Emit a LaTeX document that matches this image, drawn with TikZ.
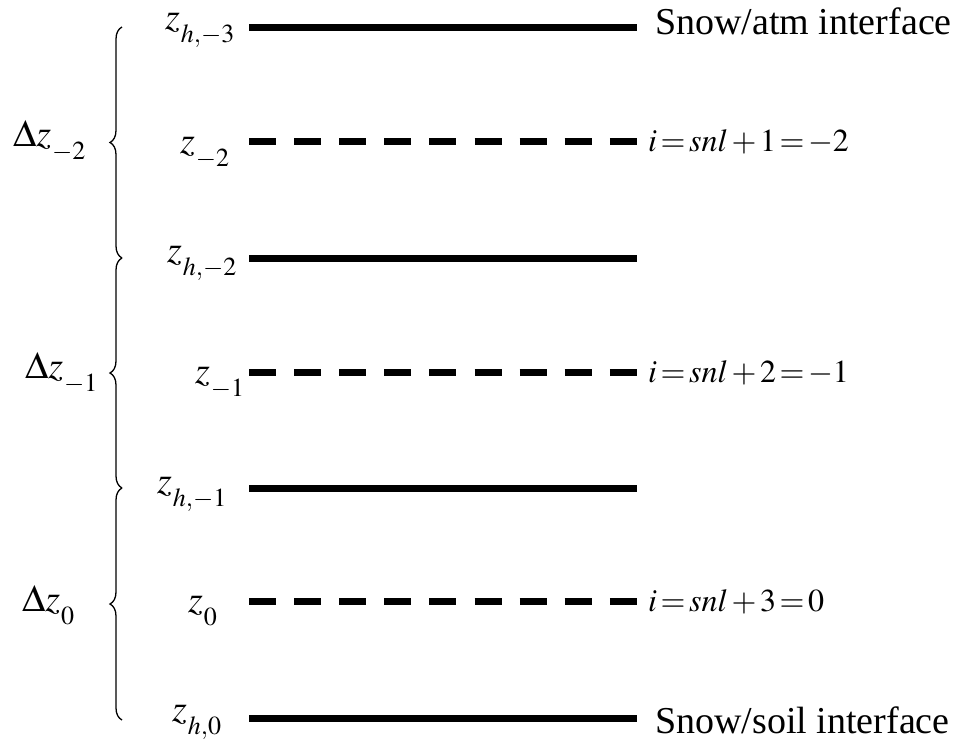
\documentclass[tikz,border=0pt]{standalone}
\usepackage{mathptmx}
\usepackage[no-math]{fontspec}
\setmainfont{Liberation Serif}
\usetikzlibrary{decorations.pathreplacing}
\newcommand{\lsub}[2]{$#1$\kern1pt\lower13pt\hbox{\fontsize{26}{30}\selectfont$#2$}}
\newcommand{\ieq}[1]{$\thickmuskip=2mu\relax\medmuskip=2mu\relax #1$}
\begin{document}
\begin{tikzpicture}[x=1pt,y=-1pt,
  solidline/.style={line width=7pt,line cap=butt},
  dashline/.style={line width=7pt,line cap=butt,dash pattern=on 27pt off 18.1pt},
  bracepath/.style={decorate,decoration={brace,amplitude=12pt},line width=1.3pt},
  zlab/.style={anchor=base west,inner sep=0pt,font=\fontsize{38}{42}\selectfont},
  ilab/.style={anchor=base west,inner sep=0pt,font=\fontsize{32}{36}\selectfont},
  tlab/.style={anchor=base west,inner sep=0pt,font=\fontsize{38}{44}\selectfont},
]
\useasboundingbox (0,0) rectangle (958,742);
% layer line end points
\coordinate (h3a) at (249,27);  \coordinate (h3b) at (637,27);
\coordinate (c2a) at (249,141); \coordinate (c2b) at (637,141);
\coordinate (h2a) at (249,258); \coordinate (h2b) at (637,258);
\coordinate (c1a) at (249,372); \coordinate (c1b) at (637,372);
\coordinate (h1a) at (249,488); \coordinate (h1b) at (637,488);
\coordinate (c0a) at (249,601); \coordinate (c0b) at (637,601);
\coordinate (h0a) at (249,718); \coordinate (h0b) at (637,718);
\draw[solidline] (h3a) -- (h3b);
\draw[dashline]  (c2a) -- (c2b);
\draw[solidline] (h2a) -- (h2b);
\draw[dashline]  (c1a) -- (c1b);
\draw[solidline] (h1a) -- (h1b);
\draw[dashline]  (c0a) -- (c0b);
\draw[solidline] (h0a) -- (h0b);
% braces
\coordinate (b3) at (122,27);
\coordinate (b2) at (122,258);
\coordinate (b1) at (122,488);
\coordinate (b0) at (122,720);
\draw[bracepath] (b2) -- (b3);
\draw[bracepath] (b1) -- (b2);
\draw[bracepath] (b0) -- (b1);
% left labels
\node[zlab] (lh3) at (165,29)  {\lsub{z}{h{,}{-}3}};
\node[zlab] (lc2) at (180,153) {\lsub{z}{-2}};
\node[zlab] (lh2) at (167,262) {\lsub{z}{h{,}{-}2}};
\node[zlab] (lc1) at (195,383) {\lsub{z}{-1}};
\node[zlab] (lh1) at (157,493) {\lsub{z}{h{,}{-}1}};
\node[zlab] (lc0) at (188,612) {\lsub{z}{0}};
\node[zlab] (lh0) at (172,721) {\lsub{z}{h{,}0}};
% thickness labels
\node[zlab] (d2) at (13,146) {\lsub{\Delta z}{-2}};
\node[zlab] (d1) at (25,378) {\lsub{\Delta z}{-1}};
\node[zlab] (d0) at (22,611) {\lsub{\Delta z}{0}};
% right labels
\node[tlab] (top) at (655,34)  {Snow/atm interface};
\node[ilab] (i2)  at (648,151) {\ieq{i=snl+1=-2}};
\node[ilab] (i1)  at (648,382) {\ieq{i=snl+2=-1}};
\node[ilab] (i0)  at (648,611) {\ieq{i=snl+3=0}};
\node[tlab] (bot) at (655,733) {Snow/soil interface};
\end{tikzpicture}
\end{document}
